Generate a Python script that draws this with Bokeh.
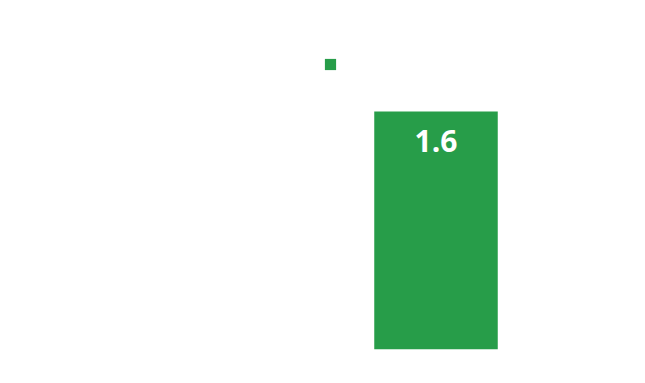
from bokeh.plotting import figure
from bokeh.models import ColumnDataSource, FactorRange, Range1d, Legend, LegendItem
from bokeh.core.properties import value
from bokeh.embed import file_html
from bokeh.resources import INLINE

categories = ["Value"]
values = [1.6]
labels = ["1.6"]

GREEN = "#279D49"

source = ColumnDataSource(data=dict(cat=categories, val=values, lab=labels))

# frame spans y 40..349 px; bar top (max value) sits at y=111
top_pad = (349 - 40) / (349 - 111)

p = figure(
    width=645, height=383,
    x_range=FactorRange(factors=categories, range_padding=0),
    y_range=Range1d(0, max(values) * top_pad),
    output_backend="svg", toolbar_location=None,
    min_border_left=312, min_border_right=86,
    min_border_top=40, min_border_bottom=34,
)
p.axis.visible = False
p.grid.visible = False
p.outline_line_color = None
p.background_fill_color = "white"
p.border_fill_color = "white"

r = p.vbar(x="cat", top="val", width=0.5, source=source,
           fill_color=GREEN, line_color=None)

p.text(x="cat", y="val", text="lab", source=source,
       text_color="white", text_font=value("Open Sans"), text_font_style="bold",
       text_font_size="30px", text_align="center", text_baseline="top",
       y_offset=18)

legend = Legend(items=[LegendItem(label=" ", renderers=[r])],
                location=(11, 278), orientation="horizontal",
                padding=0, margin=0, spacing=0,
                glyph_width=14, glyph_height=14,
                label_standoff=0, label_height=14, label_width=0,
                border_line_color=None, background_fill_alpha=0)
p.add_layout(legend)

open("out.html", "w").write(file_html(p, INLINE))
